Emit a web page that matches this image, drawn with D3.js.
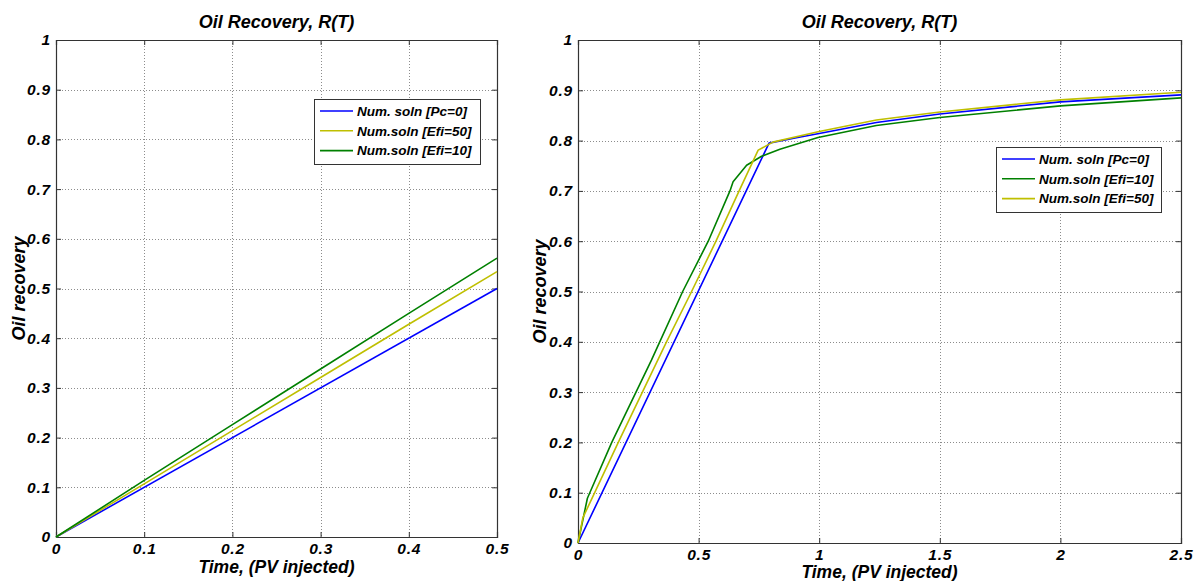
<!DOCTYPE html>
<html><head><meta charset="utf-8">
<script src="https://cdn.jsdelivr.net/npm/d3@7"></script>
<style>
body{margin:0;background:#fff;}
svg text{font-family:"Liberation Sans",Arial,sans-serif;font-style:italic;font-weight:bold;fill:#000;}
</style></head>
<body><svg id="c" width="1199" height="581"></svg>
<script>
// ---------- data ----------
const titleText = "Oil Recovery, R(T)";
const xLabel = "Time, (PV injected)";
const yLabel = "Oil recovery";
const yTicks = [0,0.1,0.2,0.3,0.4,0.5,0.6,0.7,0.8,0.9,1];

// left panel
const leftXTicks = [0,0.1,0.2,0.3,0.4,0.5];
const leftBlueX = [0,0.5];
const leftBlueY = [0,0.5];
const leftYellowX = [0,0.1,0.2,0.3,0.4,0.5];
const leftYellowY = [0,0.107,0.214,0.321,0.428,0.534];
const leftGreenX = [0,0.1,0.2,0.3,0.4,0.5];
const leftGreenY = [0,0.114,0.226,0.338,0.45,0.561];
const leftLegend = ["Num. soln [Pc=0]","Num.soln [Efi=50]","Num.soln [Efi=10]"];

// right panel
const rightXTicks = [0,0.5,1,1.5,2,2.5];
const rightBlueX = [0,0.792,0.9,1.0,1.237,1.5,2.0,2.5];
const rightBlueY = [0,0.795,0.805,0.814,0.836,0.853,0.877,0.891];
const rightGreenX = [0,0.039,0.14,0.305,0.434,0.54,0.63,0.643,0.699,0.761,0.837,0.995,1.237,1.5,2.0,2.5];
const rightGreenY = [0,0.089,0.2,0.364,0.5,0.6,0.7,0.718,0.751,0.769,0.783,0.806,0.830,0.846,0.869,0.885];
const rightYellowX = [0,0.02,0.167,0.367,0.471,0.572,0.668,0.747,0.808,1.0,1.237,1.5,2.0,2.5];
const rightYellowY = [0,0.05,0.2,0.4,0.5,0.6,0.7,0.781,0.797,0.818,0.841,0.857,0.881,0.896];
const rightLegend = ["Num. soln [Pc=0]","Num.soln [Efi=10]","Num.soln [Efi=50]"];

const BLUE="#0000ff", YELLOW="#bfbf00", GREEN="#008000";

const zip=(xs,ys)=>xs.map((x,i)=>[x,ys[i]]);

const svg=d3.select("#c");

function panel(o){
  const x=d3.scaleLinear().domain(o.xDomain).range([o.x0,o.x1]);
  const y=d3.scaleLinear().domain([0,1]).range([o.y1,o.y0]);
  const g=svg.append("g");
  // grid
  g.selectAll(".gx").data(o.xTicks.slice(1,-1)).enter().append("line")
    .attr("x1",d=>Math.round(x(d))+0.5).attr("x2",d=>Math.round(x(d))+0.5).attr("y1",o.y0).attr("y2",o.y1)
    .attr("stroke","#8c8c8c").attr("stroke-dasharray","1,2");
  g.selectAll(".gy").data(yTicks.slice(1,-1)).enter().append("line")
    .attr("y1",d=>Math.round(y(d))+0.5).attr("y2",d=>Math.round(y(d))+0.5).attr("x1",o.x0).attr("x2",o.x1)
    .attr("stroke","#8c8c8c").attr("stroke-dasharray","1,2");
  const fmt=d3.format("~g");
  const ax=g.append("g").attr("transform",`translate(0,${o.y1})`)
    .call(d3.axisBottom(x).tickValues(o.xTicks).tickSize(-5).tickPadding(6).tickFormat(fmt));
  const axT=g.append("g").attr("transform",`translate(0,${o.y0})`)
    .call(d3.axisTop(x).tickValues(o.xTicks).tickSize(-5).tickFormat(""));
  const ay=g.append("g").attr("transform",`translate(${o.x0},0)`)
    .call(d3.axisLeft(y).tickValues(yTicks).tickSize(-5).tickPadding(5).tickFormat(fmt));
  const ayR=g.append("g").attr("transform",`translate(${o.x1},0)`)
    .call(d3.axisRight(y).tickValues(yTicks).tickSize(-5).tickFormat(""));
  [ax,axT,ay,ayR].forEach(a=>{
    a.attr("font-size",null).attr("font-family",null);
    a.select(".domain").attr("stroke","#333").attr("stroke-width",1.2);
    a.selectAll(".tick line").attr("stroke","#333");
    a.selectAll("text").style("font-size","15.5px").style("letter-spacing","0.8px");
  });
  // lines
  const line=d3.line().x(d=>x(d[0])).y(d=>y(d[1]));
  o.series.forEach(s=>{
    g.append("path").datum(s.pts).attr("d",line).attr("fill","none")
      .attr("stroke",s.color).attr("stroke-width",1.6).attr("stroke-linejoin","round");
  });
  // title and labels
  g.append("text").attr("x",(o.x0+o.x1)/2).attr("y",28).attr("text-anchor","middle")
    .style("font-size","18px").text(titleText);
  g.append("text").attr("x",(o.x0+o.x1)/2).attr("y",o.xLabelY).attr("text-anchor","middle")
    .style("font-size","17.5px").text(xLabel);
  g.append("text").attr("transform",`translate(${o.yLabelX},${(o.y0+o.y1)/2}) rotate(-90)`)
    .attr("text-anchor","middle").style("font-size","18px").text(yLabel);
  // legend
  const L=o.legend;
  const lg=g.append("g");
  lg.append("rect").attr("x",L.x+0.5).attr("y",L.y+0.5).attr("width",L.w).attr("height",L.h)
    .attr("fill","#fff").attr("stroke","#333");
  o.series.forEach((s,i)=>{
    const yy=L.y+12+i*19.8;
    lg.append("line").attr("x1",L.x+6).attr("x2",L.x+39).attr("y1",yy).attr("y2",yy)
      .attr("stroke",s.color).attr("stroke-width",1.6);
    lg.append("text").attr("x",L.x+43).attr("y",yy).attr("dy","0.36em")
      .style("font-size","13.5px").text(s.name);
  });
}

panel({x0:56,x1:497,y0:40,y1:537,xDomain:[0,0.5],xTicks:leftXTicks,xLabelY:573,yLabelX:25,
  legend:{x:314,y:99,w:166,h:65},
  series:[
    {pts:zip(leftBlueX,leftBlueY),color:BLUE,name:leftLegend[0]},
    {pts:zip(leftYellowX,leftYellowY),color:YELLOW,name:leftLegend[1]},
    {pts:zip(leftGreenX,leftGreenY),color:GREEN,name:leftLegend[2]}
  ]});

panel({x0:578,x1:1181,y0:40,y1:543,xDomain:[0,2.5],xTicks:rightXTicks,xLabelY:578,yLabelX:546,
  legend:{x:996,y:147,w:165,h:65},
  series:[
    {pts:zip(rightBlueX,rightBlueY),color:BLUE,name:rightLegend[0]},
    {pts:zip(rightGreenX,rightGreenY),color:GREEN,name:rightLegend[1]},
    {pts:zip(rightYellowX,rightYellowY),color:YELLOW,name:rightLegend[2]}
  ]});
</script></body></html>
